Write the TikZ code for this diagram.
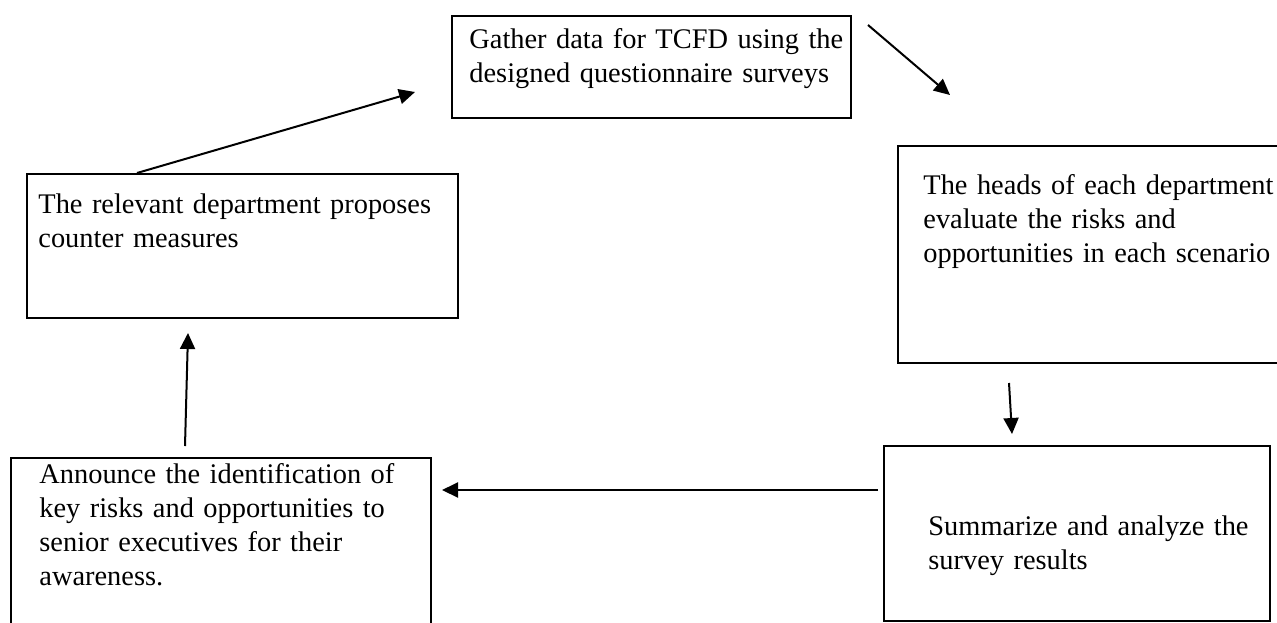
\documentclass[tikz,border=0pt]{standalone}
\usepackage{fontspec}
\setmainfont{Liberation Serif}
\usetikzlibrary{arrows.meta}
\tikzset{
  stepbox/.style={draw=black, line width=1pt, rectangle, inner sep=0pt, anchor=north west},
  boxtext/.style={anchor=base west, inner sep=0pt, text width=300pt, align=left,
    font=\fontsize{14.2pt}{17pt}\selectfont},
  flow/.style={draw=black, line width=1pt, -{Triangle[length=8pt, width=7.5pt]}}
}
\begin{document}
\begin{tikzpicture}[x=0.5pt, y=-0.5pt]
  \useasboundingbox (0,0) rectangle (1277,622);
  \clip (0,0) rectangle (1277,622);

  % process boxes (north-west corner, size)
  \node[stepbox, minimum width=199.5pt, minimum height=51pt]    (gather)   at (451,15)  {};
  \node[stepbox, minimum width=200pt,   minimum height=108.5pt] (evaluate) at (897,145) {};
  \node[stepbox, minimum width=193pt,   minimum height=87.5pt]  (summary)  at (883,445) {};
  \node[stepbox, minimum width=210pt,   minimum height=90pt]    (announce) at (10,457)  {};
  \node[stepbox, minimum width=215.5pt, minimum height=72pt]    (propose)  at (26,173)  {};

  % box captions, placed on the first baseline
  \node[boxtext] (gatherT)   at (469,48)  {Gather data for TCFD using the\\designed questionnaire surveys};
  \node[boxtext] (evaluateT) at (923,194) {The heads of each department\\evaluate the risks and\\opportunities in each scenario};
  \node[boxtext] (summaryT)  at (928,535) {Summarize and analyze the\\survey results};
  \node[boxtext] (announceT) at (39,483)  {Announce the identification of\\key risks and opportunities to\\senior executives for their\\awareness.};
  \node[boxtext] (proposeT)  at (38,213)  {The relevant department proposes\\counter measures};

  % free ends of the connectors
  \coordinate (ea) at ([xshift=55.5pt]propose.north west);
  \coordinate (eaTip) at (415,92);
  \coordinate (ab) at (868,25);
  \coordinate (abTip) at (950,95);
  \coordinate (bc) at (1009,383);
  \coordinate (bcTip) at (1012,434);
  \coordinate (cd) at ([yshift=-22.5pt]summary.north west);
  \coordinate (cdTip) at (442,490);
  \coordinate (de) at (185,446);
  \coordinate (deTip) at (188,333);

  % cycle of arrows
  \draw[flow] (ea) -- (eaTip);
  \draw[flow] (ab) -- (abTip);
  \draw[flow] (bc) -- (bcTip);
  \draw[flow] ([xshift=-2.5pt]cd) -- (cdTip);
  \draw[flow] (de) -- (deTip);
\end{tikzpicture}
\end{document}
